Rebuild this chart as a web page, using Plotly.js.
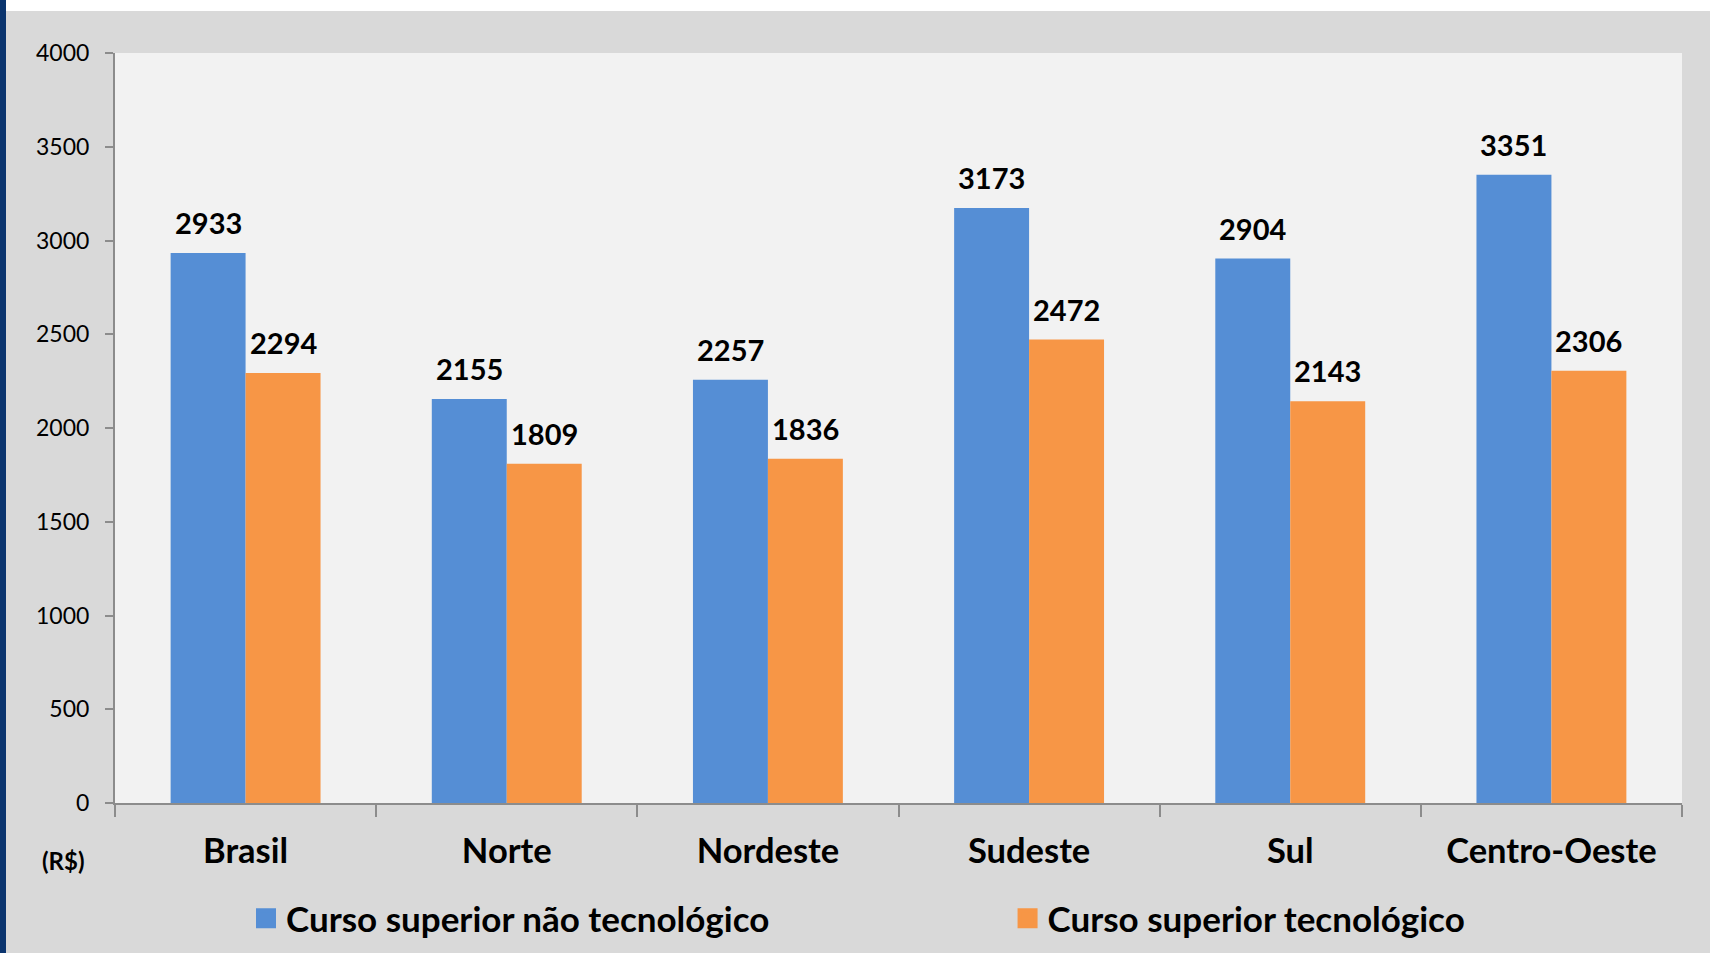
<!DOCTYPE html>
<html>
<head>
<meta charset="utf-8">
<script src="https://cdn.plot.ly/plotly-3.0.1.min.js"></script>
<style>
  html, body { margin: 0; padding: 0; background: #ffffff; width: 1710px; height: 953px; overflow: hidden; }
  #stripe { position: absolute; left: 0; top: 0; width: 6px; height: 953px; background: #0b356f; }
  #chart { position: absolute; left: 6px; top: 11px; width: 1704px; height: 942px; }
</style>
</head>
<body>
<div id="stripe"></div>
<div id="chart"></div>
<script>
const categories = ["Brasil", "Norte", "Nordeste", "Sudeste", "Sul", "Centro-Oeste"];
const naoTecnologico = [2933, 2155, 2257, 3173, 2904, 3351];
const tecnologico = [2294, 1809, 1836, 2472, 2143, 2306];
const seriesNames = ["Curso superior não tecnológico", "Curso superior tecnológico"];
const unitLabel = "(R$)";
const yTicks = [0, 500, 1000, 1500, 2000, 2500, 3000, 3500, 4000];

const BLUE = "#558ed5";
const ORANGE = "#f79646";
const FONT = "Lato, 'Open Sans', sans-serif";

const traces = [
  { type: "bar", name: seriesNames[0], x: categories, y: naoTecnologico,
    marker: { color: BLUE }, showlegend: false, hoverinfo: "x+y" },
  { type: "bar", name: seriesNames[1], x: categories, y: tecnologico,
    marker: { color: ORANGE }, showlegend: false, hoverinfo: "x+y" },
  { type: "scatter", mode: "markers", name: seriesNames[0], x: [null], y: [null],
    marker: { symbol: "square", color: BLUE, size: 16, line: { color: BLUE, width: 4 } },
    legend: "legend", hoverinfo: "skip" },
  { type: "scatter", mode: "markers", name: seriesNames[1], x: [null], y: [null],
    marker: { symbol: "square", color: ORANGE, size: 16, line: { color: ORANGE, width: 4 } },
    legend: "legend2", hoverinfo: "skip" }
];

const annotations = [];
const series = [naoTecnologico, tecnologico];
series.forEach((vals, s) => {
  vals.forEach((v, i) => {
    annotations.push({
      x: categories[i], y: v, xref: "x", yref: "y",
      xshift: s === 0 ? -37.5 : 37.5, yshift: 11,
      yanchor: "bottom", xanchor: "center",
      text: String(v), showarrow: false,
      font: { family: FONT, size: 29, color: "#000000", weight: "bold" }
    });
  });
});
annotations.push({
  xref: "paper", yref: "paper", x: -0.0326, y: -0.0773,
  xanchor: "center", yanchor: "middle", showarrow: false,
  text: "<b>" + unitLabel + "</b>",
  font: { family: FONT, size: 24, color: "#000000" }
});

const legendFont = { family: FONT, size: 35, color: "#000000", weight: "bold" };

const layout = {
  width: 1704, height: 942,
  margin: { l: 109, r: 28, t: 42, b: 150, autoexpand: false },
  paper_bgcolor: "#d9d9d9",
  plot_bgcolor: "#f2f2f2",
  font: { family: FONT, color: "#000000" },
  barmode: "group",
  bargap: 0.426,
  bargroupgap: 0,
  showlegend: true,
  xaxis: {
    type: "category",
    showline: true, linecolor: "#8c8c8c", linewidth: 2,
    ticks: "outside", tickson: "boundaries", ticklen: 12, tickwidth: 2, tickcolor: "#8c8c8c",
    showgrid: false, zeroline: false,
    tickfont: { family: FONT, size: 34.5, color: "#000000", weight: "bold" },
    ticklabelstandoff: 17,
    fixedrange: true
  },
  yaxis: {
    range: [0, 4000],
    tickvals: yTicks,
    ticktext: yTicks.map(String),
    showline: true, linecolor: "#8c8c8c", linewidth: 2,
    ticks: "outside", ticklen: 8, tickwidth: 2, tickcolor: "#8c8c8c",
    showgrid: false, zeroline: false,
    tickfont: { family: FONT, size: 23, color: "#000000" },
    ticklabelstandoff: 11,
    fixedrange: true
  },
  legend: {
    orientation: "h", x: 0.0836, y: -0.1541, xanchor: "left", yanchor: "middle",
    bgcolor: "rgba(0,0,0,0)", font: legendFont, itemclick: false, itemdoubleclick: false
  },
  legend2: {
    orientation: "h", x: 0.5696, y: -0.1541, xanchor: "left", yanchor: "middle",
    bgcolor: "rgba(0,0,0,0)", font: legendFont, itemclick: false, itemdoubleclick: false
  },
  annotations: annotations
};

Plotly.newPlot("chart", traces, layout, { displayModeBar: false, responsive: false });
</script>
</body>
</html>
